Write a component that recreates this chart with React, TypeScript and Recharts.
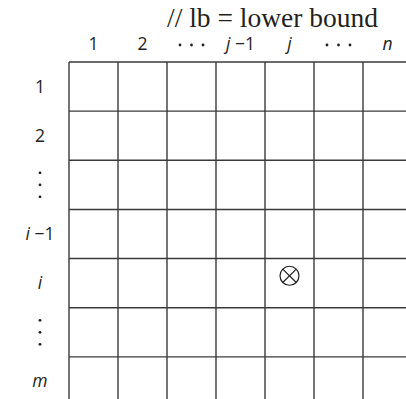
import React from 'react';
import { ScatterChart, Scatter, XAxis, YAxis, ReferenceLine } from 'recharts';

// column headers and row headers of the m x n table
const COLUMN_LABELS = ['1', '2', '...', 'j −1', 'j', '...', 'n'];
const ROW_LABELS = ['1', '2', ':', 'i −1', 'i', ':', 'm'];
const COLUMN_TICKS = [0.5, 1.5, 2.5, 3.5, 4.5, 5.5, 6.5];
const ROW_TICKS = [0.5, 1.5, 2.5, 3.5, 4.5, 5.5, 6.5];
const CELL_EDGES = [0, 1, 2, 3, 4, 5, 6, 7];
// the cell (i, j) holding the ⊗
const MARKED_CELL = [{ col: 4.5, row: 4.35 }];

const TITLE = '// lb = lower bound';
const INK = '#231f20';
const GRID = '#3a3a3a';
const SANS = '"Open Sans", "Noto Sans", sans-serif';

const labelParts = (label: string) =>
  label.split(/([a-z])/).filter(p => p !== '').map((p, k) => (
    <tspan key={k} fontStyle={/^[a-z]$/.test(p) ? 'italic' : 'normal'}>{p}</tspan>
  ));

const Dots = ({ x, y, horizontal }: { x: number; y: number; horizontal: boolean }) => (
  <g>
    {[-1, 0, 1].map(k => (
      <circle
        key={k}
        cx={horizontal ? x + k * 11.5 : x}
        cy={horizontal ? y : y + k * 12}
        r={1.4}
        fill={INK}
      />
    ))}
  </g>
);

const ColumnTick = (props: any) => {
  const { x, y, index } = props;
  const label = COLUMN_LABELS[index];
  if (label === '...') return <Dots x={x} y={y - 5} horizontal />;
  return (
    <text x={x} y={y} textAnchor="middle" fontFamily={SANS} fontSize={17.5} fill={INK}>
      {labelParts(label)}
    </text>
  );
};

const RowTick = (props: any) => {
  const { x, y, index } = props;
  const label = ROW_LABELS[index];
  if (label === ':') return <Dots x={x} y={y} horizontal={false} />;
  return (
    <text x={x} y={y + 6} textAnchor="middle" fontFamily={SANS} fontSize={17.5} fill={INK}>
      {labelParts(label)}
    </text>
  );
};

const CircleTimes = (props: any) => {
  const { cx, cy } = props;
  const r = 9.5;
  const d = r * 0.7071;
  return (
    <g stroke={INK} strokeWidth={1.2} fill="none">
      <circle cx={cx} cy={cy} r={r} />
      <line x1={cx - d} y1={cy - d} x2={cx + d} y2={cy + d} />
      <line x1={cx - d} y1={cy + d} x2={cx + d} y2={cy - d} />
    </g>
  );
};

export default function App() {
  return (
    <div style={{ position: 'absolute', left: 0, top: 0, width: 406, height: 399, overflow: 'hidden', background: '#fff' }}>
      <div
        style={{
          position: 'absolute',
          left: 167,
          top: 4,
          fontFamily: '"Liberation Serif", serif',
          fontSize: 27.5,
          lineHeight: '27px',
          color: INK,
          whiteSpace: 'nowrap',
        }}
      >
        {TITLE}
      </div>
      <ScatterChart width={420} height={412} margin={{ top: 0, right: 8, bottom: 6, left: 0 }}>
        <XAxis
          type="number"
          dataKey="col"
          orientation="top"
          domain={[0, 7]}
          ticks={COLUMN_TICKS}
          height={62}
          axisLine={false}
          tickLine={false}
          tickSize={0}
          tickMargin={12}
          interval={0}
          tick={<ColumnTick />}
        />
        <YAxis
          type="number"
          dataKey="row"
          domain={[0, 7]}
          reversed
          ticks={ROW_TICKS}
          width={69}
          axisLine={false}
          tickLine={false}
          tickSize={0}
          tickMargin={29}
          interval={0}
          tick={<RowTick />}
        />
        {CELL_EDGES.map(v => (
          <ReferenceLine key={`x${v}`} x={v} stroke={GRID} strokeWidth={1.4} />
        ))}
        {CELL_EDGES.map(v => (
          <ReferenceLine key={`y${v}`} y={v} stroke={GRID} strokeWidth={1.4} />
        ))}
        <Scatter data={MARKED_CELL} shape={<CircleTimes />} isAnimationActive={false} />
      </ScatterChart>
    </div>
  );
}
